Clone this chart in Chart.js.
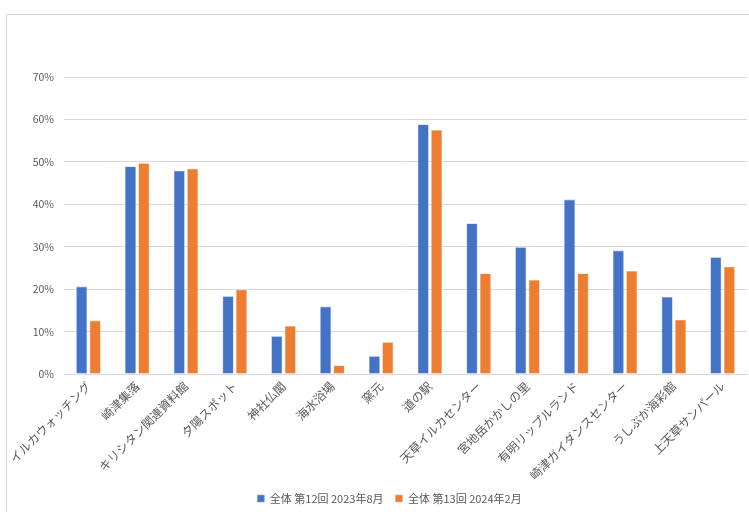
<!DOCTYPE html>
<html>
<head>
<meta charset="utf-8">
<script src="https://cdn.jsdelivr.net/npm/chart.js@4.4.1/dist/chart.umd.min.js"></script>
<style>
  html, body { margin: 0; padding: 0; background: #fff; }
  #wrap { position: relative; width: 749px; height: 512px; overflow: hidden; }
  #frame { position: absolute; left: 6px; top: 14px; width: 800px; height: 600px; border: 1px solid #d9d9d9; box-sizing: border-box; }
  #myChart { position: absolute; left: 0; top: 0; }
</style>
</head>
<body>
<div id="wrap">
  <div id="frame"></div>
  <canvas id="myChart" width="749" height="512"></canvas>
</div>
<script>
// 카테고리 / 시리즈
const categories = [
  'イルカウォッチング', '崎津集落', 'キリシタン関連資料館', '夕陽スポット', '神社仏閣',
  '海水浴場', '窯元', '道の駅', '天草イルカセンター', '宮地岳かかしの里',
  '有明リップルランド', '崎津ガイダンスセンター', 'うしぶか海彩館', '上天草サンパール'
];
const seriesNames = ['全体 第12回 2023年8月', '全体 第13回 2024年2月'];
const survey12 = [20.6, 48.9, 47.9, 18.3, 8.9, 15.9, 4.2, 58.8, 35.5, 29.9, 41.1, 29.1, 18.2, 27.5];
const survey13 = [12.6, 49.7, 48.4, 19.9, 11.3, 2.0, 7.5, 57.5, 23.7, 22.2, 23.7, 24.3, 12.8, 25.3];
const yTicks = [0, 10, 20, 30, 40, 50, 60, 70];

const textColor = '#595959';
const fontFamily = '"Noto Sans CJK JP", "Noto Sans", sans-serif';

let ctx = document.getElementById('myChart');

// 범례 위치 보정 (엑셀처럼 약간 오른쪽/아래)
const legendShift = {
  id: 'legendShift',
  afterLayout(chart) {
    const lg = chart.legend;
    lg.left += 16; lg.right += 16;
    lg.top += 2; lg.bottom += 2;
  }
};

let config = {
  type: 'bar',
  data: {
    labels: categories,
    datasets: [{
      label: seriesNames[0],
      data: survey12,
      backgroundColor: '#4472C4',
      borderColor: '#8FAADC',
      borderWidth: 0.6,
      borderSkipped: 'bottom'
    }, {
      label: seriesNames[1],
      data: survey13,
      backgroundColor: '#ED7D31',
      borderColor: '#F4B183',
      borderWidth: 0.6,
      borderSkipped: 'bottom'
    }]
  },
  options: {
    responsive: false,
    animation: false,
    datasets: {
      bar: { categoryPercentage: 0.55, barPercentage: 0.82 }
    },
    layout: {
      padding: {top: 77, left: 0, right: 2, bottom: 0}
    },
    plugins: {
      legend: {
        position: 'bottom',
        labels: {
          boxWidth: 7,
          boxHeight: 7,
          padding: 12,
          color: textColor,
          font: {family: fontFamily, size: 11}
        }
      },
      tooltip: {enabled: false}
    },
    scales: {
      x: {
        grid: {display: false, drawTicks: false},
        border: {display: true, color: '#d9d9d9'},
        ticks: {
          color: textColor,
          font: {family: fontFamily, size: 12},
          minRotation: 45,
          maxRotation: 45,
          autoSkip: false,
          padding: 5
        },
        afterFit: (scale) => { scale.height = 105; }
      },
      y: {
        min: 0,
        max: 70,
        afterBuildTicks: (scale) => { scale.ticks = yTicks.map(v => ({value: v})); },
        grid: {color: '#d9d9d9', drawTicks: false},
        border: {display: false},
        ticks: {
          color: textColor,
          font: {family: fontFamily, size: 10.5},
          padding: 10,
          callback: (v) => v + '%'
        },
        afterFit: (scale) => { scale.width = 64; }
      }
    }
  },
  plugins: [legendShift]
};

let myChart = new Chart(ctx, config);
</script>
</body>
</html>
